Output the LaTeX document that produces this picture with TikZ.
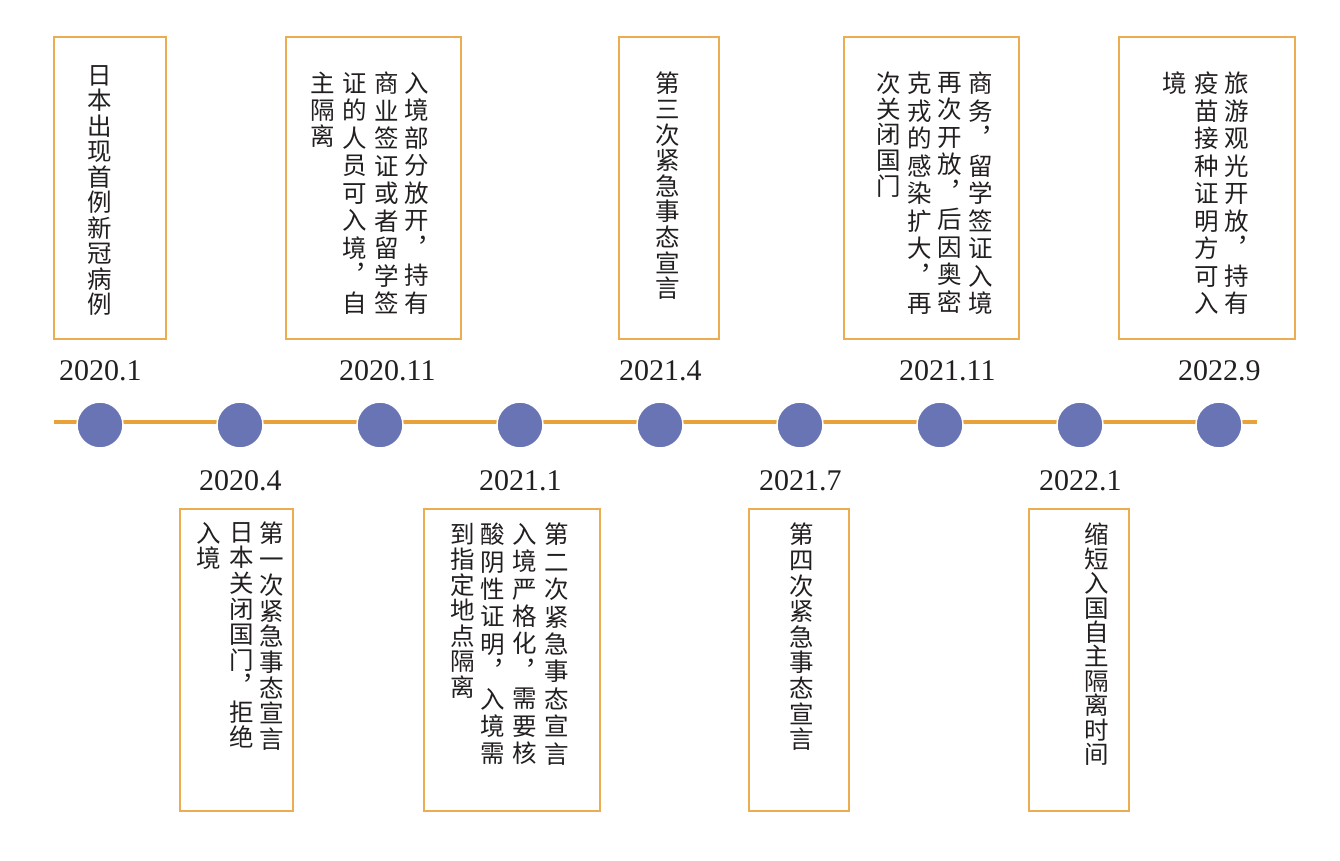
\documentclass[tikz,border=0pt]{standalone}
\usepackage{fontspec}
\setmainfont{Liberation Serif}
\newfontfamily\cjk{Noto Sans CJK SC}
\definecolor{lineorange}{RGB}{233,161,58}
\definecolor{boxorange}{RGB}{236,172,82}
\definecolor{dotblue}{RGB}{104,116,180}
\definecolor{textdark}{RGB}{35,31,32}
\newcommand{\vcol}[5]{\node[vtext, font={\cjk\fontsize{24.5}{#4}\selectfont\lineskiplimit=-100pt\lineskip=0pt}] (#1) at (#2,#3) {#5};}
\begin{document}
\begin{tikzpicture}[x=1pt,y=-1pt,
  evbox/.style={draw=boxorange, line width=1.8pt, inner sep=0pt, fill=none},
  vtext/.style={anchor=north, inner sep=0pt, align=center, text=textdark},
  dot/.style={circle, fill=dotblue, draw=white, line width=1.5pt, minimum size=46pt, inner sep=0pt},
  datelabel/.style={anchor=base west, inner sep=0pt, text=textdark, font=\fontsize{30}{36}\selectfont},
  timeline/.style={draw=lineorange, line width=4.5pt}]
\useasboundingbox (0,0) rectangle (1340,860);

% timeline
\coordinate (tlA) at (54,422);
\coordinate (tlB) at (1257,422);
\draw[timeline] (tlA) -- (tlB);

% dots
\node[dot] (d1) at (100,425) {};
\node[dot] (d2) at (240,425) {};
\node[dot] (d3) at (380,425) {};
\node[dot] (d4) at (520,425) {};
\node[dot] (d5) at (660,425) {};
\node[dot] (d6) at (800,425) {};
\node[dot] (d7) at (940,425) {};
\node[dot] (d8) at (1080,425) {};
\node[dot] (d9) at (1219,425) {};

% date labels
\node[datelabel] (l1) at (59,380) {2020.1};
\node[datelabel] (l2) at (199,490) {2020.4};
\node[datelabel] (l3) at (339,380) {2020.11};
\node[datelabel] (l4) at (479,490) {2021.1};
\node[datelabel] (l5) at (619,380) {2021.4};
\node[datelabel] (l6) at (759,490) {2021.7};
\node[datelabel] (l7) at (899,380) {2021.11};
\node[datelabel] (l8) at (1039,490) {2022.1};
\node[datelabel] (l9) at (1178,380) {2022.9};

% top boxes
\node[evbox, minimum width=112pt, minimum height=302pt] (b1) at (110,188) {};
\node[evbox, minimum width=175pt, minimum height=302pt] (b3) at (373.5,188) {};
\node[evbox, minimum width=100pt, minimum height=302pt] (b5) at (669,188) {};
\node[evbox, minimum width=175pt, minimum height=302pt] (b7) at (931.5,188) {};
\node[evbox, minimum width=176pt, minimum height=302pt] (b9) at (1207,188) {};
% bottom boxes
\node[evbox, minimum width=113pt, minimum height=302pt] (b2) at (236.5,660) {};
\node[evbox, minimum width=176pt, minimum height=302pt] (b4) at (512,660) {};
\node[evbox, minimum width=100pt, minimum height=302pt] (b6) at (799,660) {};
\node[evbox, minimum width=100pt, minimum height=302pt] (b8) at (1079,660) {};

% texts: box 1
\vcol{t1a}{100}{65}{25.5}{日\\本\\出\\现\\首\\例\\新\\冠\\病\\例}
% box 3 (2020.11)
\vcol{t3a}{417}{72}{27.5}{入\\境\\部\\分\\放\\开\\︐\\持\\有}
\vcol{t3b}{387}{72}{27.5}{商\\业\\签\\证\\或\\者\\留\\学\\签}
\vcol{t3c}{355}{72}{27.5}{证\\的\\人\\员\\可\\入\\境\\︐\\自}
\vcol{t3d}{323}{72}{26.5}{主\\隔\\离}
% box 5 (2021.4)
\vcol{t5a}{668}{72}{25.6}{第\\三\\次\\紧\\急\\事\\态\\宣\\言}
% box 7 (2021.11)
\vcol{t7a}{981}{72}{27.5}{商\\务\\︐\\留\\学\\签\\证\\入\\境}
\vcol{t7b}{950}{72}{27.5}{再\\次\\开\\放\\︐\\后\\因\\奥\\密}
\vcol{t7c}{920}{72}{27.5}{克\\戎\\的\\感\\染\\扩\\大\\︐\\再}
\vcol{t7d}{889}{72}{25.6}{次\\关\\闭\\国\\门}
% box 9 (2022.9)
\vcol{t9a}{1237}{72}{27.5}{旅\\游\\观\\光\\开\\放\\︐\\持\\有}
\vcol{t9b}{1207}{72}{27.5}{疫\\苗\\接\\种\\证\\明\\方\\可\\入}
\vcol{t9c}{1175}{72}{27.5}{境}
% box 2 (2020.4)
\vcol{t2a}{272}{522}{25.7}{第\\一\\次\\紧\\急\\事\\态\\宣\\言}
\vcol{t2b}{242}{522}{25.7}{日\\本\\关\\闭\\国\\门\\︐\\拒\\绝}
\vcol{t2c}{209}{522}{25.7}{入\\境}
% box 4 (2021.1)
\vcol{t4a}{557}{523}{27.4}{第\\二\\次\\紧\\急\\事\\态\\宣\\言}
\vcol{t4b}{525}{523}{27.4}{入\\境\\严\\格\\化\\︐\\需\\要\\核}
\vcol{t4c}{493}{523}{27.4}{酸\\阴\\性\\证\\明\\︐\\入\\境\\需}
\vcol{t4d}{463}{523}{25.5}{到\\指\\定\\地\\点\\隔\\离}
% box 6 (2021.7)
\vcol{t6a}{802}{523}{25.6}{第\\四\\次\\紧\\急\\事\\态\\宣\\言}
% box 8 (2022.1)
\vcol{t8a}{1097}{523}{24.4}{缩\\短\\入\\国\\自\\主\\隔\\离\\时\\间}
\end{tikzpicture}
\end{document}
